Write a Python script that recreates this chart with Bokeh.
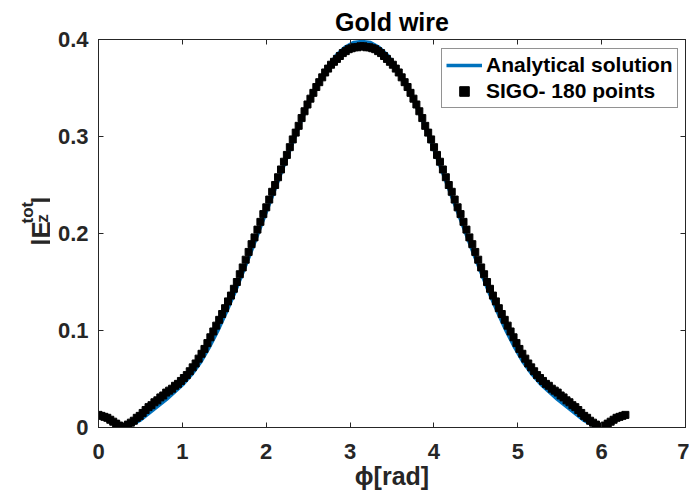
import numpy as np
from bokeh.plotting import figure
from bokeh.layouts import row
from bokeh.models import Range1d, LinearAxis, FixedTicker
from bokeh.core.properties import value
from bokeh.embed import file_html
from bokeh.resources import INLINE

# ---------------- data ----------------
x_ticks = [0, 1, 2, 3, 4, 5, 6, 7]
x_tick_labels = ["0", "1", "2", "3", "4", "5", "6", "7"]
y_ticks = [0, 0.1, 0.2, 0.3, 0.4]
y_tick_labels = ["0", "0.1", "0.2", "0.3", "0.4"]

title_text = "Gold wire"
x_label = "\u03d5[rad]"
series_names = ["Analytical solution", "SIGO- 180 points"]

phi_analytical = np.linspace(0, 2 * np.pi, 63)
e_analytical = [
    0.012, 0.009, 0.005, 0.002, 0.003, 0.008, 0.015, 0.022, 0.029, 0.037,
    0.045, 0.055, 0.067, 0.082, 0.099, 0.118, 0.138, 0.160, 0.182, 0.205,
    0.228, 0.251, 0.274, 0.297, 0.319, 0.339, 0.357, 0.372, 0.384, 0.392,
    0.397, 0.398, 0.397, 0.392, 0.384, 0.372, 0.357, 0.339, 0.319, 0.297,
    0.274, 0.251, 0.228, 0.205, 0.182, 0.160, 0.138, 0.118, 0.099, 0.082,
    0.067, 0.055, 0.045, 0.037, 0.029, 0.022, 0.015, 0.008, 0.003, 0.002,
    0.005, 0.009, 0.012,
]

phi_sigo = np.linspace(0, 2 * np.pi, 180)
e_sigo = [
    0.013, 0.012, 0.011, 0.010, 0.008, 0.006, 0.004, 0.002, 0.001, 0.000,
    0.003, 0.005, 0.007, 0.010, 0.012, 0.015, 0.018, 0.021, 0.023, 0.026,
    0.028, 0.031, 0.033, 0.036, 0.038, 0.040, 0.043, 0.045, 0.048, 0.051,
    0.054, 0.058, 0.062, 0.066, 0.071, 0.076, 0.081, 0.087, 0.093, 0.099,
    0.105, 0.111, 0.117, 0.123, 0.130, 0.136, 0.143, 0.150, 0.158, 0.165,
    0.173, 0.181, 0.189, 0.196, 0.204, 0.212, 0.220, 0.227, 0.235, 0.243,
    0.250, 0.258, 0.266, 0.274, 0.281, 0.289, 0.297, 0.304, 0.311, 0.319,
    0.326, 0.333, 0.339, 0.345, 0.351, 0.356, 0.361, 0.366, 0.370, 0.374,
    0.377, 0.380, 0.383, 0.386, 0.388, 0.390, 0.391, 0.392, 0.392, 0.393,
    0.393, 0.392, 0.392, 0.391, 0.390, 0.388, 0.386, 0.383, 0.380, 0.377,
    0.374, 0.370, 0.366, 0.361, 0.356, 0.351, 0.345, 0.339, 0.333, 0.326,
    0.319, 0.311, 0.304, 0.297, 0.289, 0.281, 0.274, 0.266, 0.258, 0.250,
    0.243, 0.235, 0.227, 0.220, 0.212, 0.204, 0.196, 0.189, 0.181, 0.173,
    0.165, 0.158, 0.150, 0.143, 0.136, 0.130, 0.123, 0.117, 0.111, 0.105,
    0.099, 0.093, 0.087, 0.081, 0.076, 0.071, 0.066, 0.062, 0.058, 0.054,
    0.051, 0.048, 0.045, 0.043, 0.040, 0.038, 0.036, 0.033, 0.031, 0.028,
    0.026, 0.023, 0.021, 0.018, 0.015, 0.012, 0.010, 0.007, 0.005, 0.003,
    0.000, 0.001, 0.002, 0.004, 0.006, 0.008, 0.010, 0.011, 0.012, 0.013,
]

# y-axis label pieces: |E_z^tot|
ylab_main = ["|E", "|"]
ylab_sub = ["z"]
ylab_sup = ["tot"]

FONT = "Liberation Sans"
AX_COLOR = "#262626"

# ---------------- main figure ----------------
p = figure(
    width=639, height=502,
    output_backend="svg", toolbar_location=None,
    x_range=Range1d(0, 7), y_range=Range1d(0, 0.4),
    min_border_left=48, min_border_right=4,
    min_border_top=39, min_border_bottom=75,
    background_fill_color="white", border_fill_color="white",
)
p.grid.visible = False
p.outline_line_color = AX_COLOR
p.outline_line_width = 1

p.title.text = title_text
p.title.align = "center"
p.title.text_font = FONT
p.title.text_font_size = "25px"
p.title.text_font_style = "bold"
p.title.text_color = "black"
p.title.standoff = 7

p.line(phi_analytical, e_analytical, line_color="#0072BD", line_width=3.5,
       legend_label=series_names[0])
p.scatter(phi_sigo, e_sigo, marker="square", size=7, fill_color="black",
          line_color="black", legend_label=series_names[1])


def style_axis(ax, ticks, labels, standoff=9, show_labels=True):
    ax.ticker = FixedTicker(ticks=ticks)
    ax.major_tick_in = 5
    ax.major_tick_out = 0
    ax.minor_tick_line_color = None
    ax.axis_line_color = AX_COLOR
    ax.major_tick_line_color = AX_COLOR
    ax.major_label_text_font = FONT
    ax.major_label_text_font_style = "bold"
    ax.major_label_text_color = AX_COLOR
    if show_labels:
        ax.major_label_overrides = {t: l for t, l in zip(ticks, labels)}
        ax.major_label_text_font_size = "22px"
        ax.major_label_standoff = standoff
    else:
        ax.major_label_overrides = {t: "" for t in ticks}
        ax.major_label_text_font_size = "1px"
        ax.major_label_standoff = 0


style_axis(p.xaxis[0], x_ticks, x_tick_labels, standoff=16)
style_axis(p.yaxis[0], y_ticks, y_tick_labels, standoff=10)

p.xaxis[0].axis_label = x_label
p.xaxis[0].axis_label_text_font = FONT
p.xaxis[0].axis_label_text_font_size = "25px"
p.xaxis[0].axis_label_text_font_style = "bold"
p.xaxis[0].axis_label_text_color = AX_COLOR
p.xaxis[0].axis_label_standoff = 0

top_ax = LinearAxis()
right_ax = LinearAxis()
style_axis(top_ax, x_ticks, x_tick_labels, show_labels=False)
style_axis(right_ax, y_ticks, y_tick_labels, show_labels=False)
p.add_layout(top_ax, "above")
p.add_layout(right_ax, "right")

# ---------------- legend ----------------
lg = p.legend[0]
lg.location = (343, 319)
lg.border_line_color = AX_COLOR
lg.border_line_width = 1
lg.background_fill_color = "white"
lg.background_fill_alpha = 1
lg.label_text_font = FONT
lg.label_text_font_style = "bold"
lg.label_text_font_size = "21px"
lg.label_text_color = "black"
lg.glyph_width = 36
lg.glyph_height = 24
lg.label_height = 24
lg.label_standoff = 4
lg.padding = 4
lg.spacing = 2
lg.margin = 0

# ---------------- y label strip (rotated |E_z^tot|) ----------------
q = figure(
    width=50, height=502,
    output_backend="svg", toolbar_location=None,
    x_range=Range1d(0, 50), y_range=Range1d(0, 502),
    x_axis_location=None, y_axis_location=None,
    min_border_left=0, min_border_right=0,
    min_border_top=0, min_border_bottom=0,
    background_fill_color="white", border_fill_color="white",
)
q.grid.visible = False
q.outline_line_color = None

ang = np.pi / 2
q.text(x=[40, 40], y=[267, 299], text=ylab_main, angle=ang,
       text_font=value(FONT), text_font_size="26px", text_font_style="bold",
       text_color=AX_COLOR, text_align="right", text_baseline="alphabetic")
q.text(x=[42], y=[276], text=ylab_sub, angle=ang,
       text_font=value(FONT), text_font_size="17px", text_font_style="bold",
       text_color=AX_COLOR, text_align="right", text_baseline="alphabetic")
q.text(x=[27], y=[292], text=ylab_sup, angle=ang,
       text_font=value(FONT), text_font_size="17px", text_font_style="bold",
       text_color=AX_COLOR, text_align="right", text_baseline="alphabetic")

layout = row(q, p, spacing=0)

open("out.html", "w").write(file_html(layout, INLINE))
